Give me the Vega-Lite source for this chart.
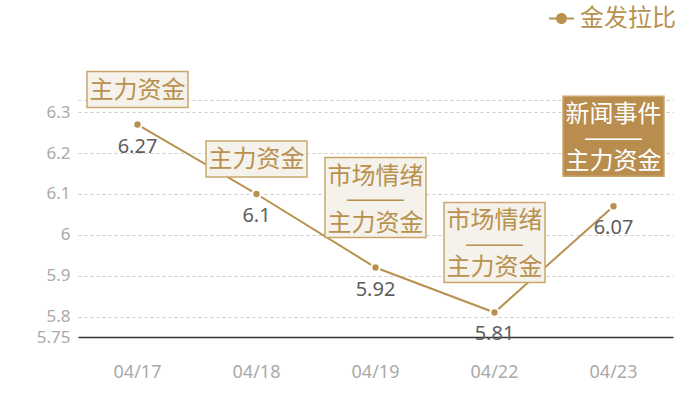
{
  "$schema": "https://vega.github.io/schema/vega-lite/v6.json",
  "autosize": {"type": "none"},
  "width": 595,
  "height": 237,
  "padding": {"left": 78, "top": 100, "right": 27, "bottom": 63},
  "background": "white",
  "config": {
    "font": "Noto Sans CJK SC",
    "view": {"stroke": null}
  },
  "data": {
    "values": [
      {"date": "04/17", "value": 6.27, "series": "金发拉比", "note": "主力资金"},
      {"date": "04/18", "value": 6.1, "series": "金发拉比", "note": "主力资金"},
      {"date": "04/19", "value": 5.92, "series": "金发拉比", "note": "市场情绪\n———\n主力资金"},
      {"date": "04/22", "value": 5.81, "series": "金发拉比", "note": "市场情绪\n———\n主力资金"},
      {"date": "04/23", "value": 6.07, "series": "金发拉比", "note": "新闻事件\n———\n主力资金"}
    ]
  },
  "encoding": {
    "x": {
      "field": "date", "type": "ordinal", "sort": null,
      "scale": {"paddingInner": 0, "paddingOuter": 0},
      "axis": {
        "title": null, "labelAngle": 0, "ticks": false, "domainColor": "#333333", "domainWidth": 1.5,
        "labelColor": "#aaaaaa", "labelFontSize": 18, "labelPadding": 26, "labelFont": "Noto Sans", "grid": false
      }
    },
    "y": {
      "field": "value", "type": "quantitative",
      "scale": {"domain": [5.75, 6.33], "nice": false, "zero": false},
      "axis": {
        "title": null, "values": [5.75, 5.8, 5.9, 6, 6.1, 6.2, 6.3, 6.33],
        "labelExpr": "datum.value > 6.32 ? '' : format(datum.value, '~g')",
        "domain": false, "ticks": false, "labelColor": "#aaaaaa", "labelFontSize": 17, "labelFont": "Noto Sans",
        "labelPadding": 8, "grid": true, "gridColor": "#cccccc", "gridDash": [3, 3], "gridWidth": 1
      }
    }
  },
  "layer": [
    {
      "mark": {"type": "line", "color": "#b8914f", "strokeWidth": 2}
    },
    {
      "mark": {"type": "point", "filled": true, "size": 70, "stroke": "white", "strokeWidth": 2, "opacity": 1},
      "encoding": {
        "color": {
          "field": "series", "type": "nominal",
          "scale": {"range": ["#b8914f"]},
          "legend": {
            "title": null, "orient": "none", "legendX": 471, "legendY": -94, "padding": 0,
            "symbolType": "M-1,-0.08H-0.44V0.08H-1Z M0.44,-0.08H1V0.08H0.44Z M-0.44,0A0.44,0.44 0 1,1 0.44,0A0.44,0.44 0 1,1 -0.44,0Z",
            "symbolSize": 625, "symbolStrokeWidth": 0, "symbolOpacity": 1,
            "labelFontSize": 24, "labelColor": "#b8914f", "labelOffset": 6, "labelFont": "Noto Sans CJK SC"
          }
        }
      }
    },
    {
      "mark": {"type": "text", "baseline": "top", "dy": 12, "fontSize": 20, "color": "#5e5e5e", "font": "Noto Sans"},
      "encoding": {"text": {"field": "value", "type": "quantitative", "format": "~g"}}
    },
    {
      "transform": [{"filter": "length(datum.note) <= 4"}],
      "mark": {"type": "bar", "width": 101, "yOffset": -53, "y2Offset": -17, "fill": "#f5f1eb", "stroke": "#c9a66c", "strokeWidth": 1.5},
      "encoding": {"y2": {"field": "value"}}
    },
    {
      "transform": [{"filter": "length(datum.note) > 4"}],
      "mark": {"type": "bar", "width": 101, "yOffset": -110, "y2Offset": -30, "stroke": "#c9a66c", "strokeWidth": 1.5},
      "encoding": {
        "y2": {"field": "value"},
        "fill": {"condition": {"test": "substring(datum.note, 0, 4) == '新闻事件'", "value": "#b88d4e"}, "value": "#f5f1eb"}
      }
    },
    {
      "transform": [{"filter": "length(datum.note) <= 4"}],
      "mark": {"type": "text", "baseline": "middle", "dy": -34, "fontSize": 24, "color": "#b8914f"},
      "encoding": {"text": {"field": "note"}}
    },
    {
      "transform": [{"filter": "length(datum.note) > 4"}],
      "mark": {"type": "text", "baseline": "middle", "dy": -91, "fontSize": 24, "lineBreak": "\n", "lineHeight": 23.5},
      "encoding": {
        "text": {"field": "note"},
        "color": {"condition": {"test": "substring(datum.note, 0, 4) == '新闻事件'", "value": "#ffffff"}, "value": "#b8914f"}
      }
    }
  ]
}
